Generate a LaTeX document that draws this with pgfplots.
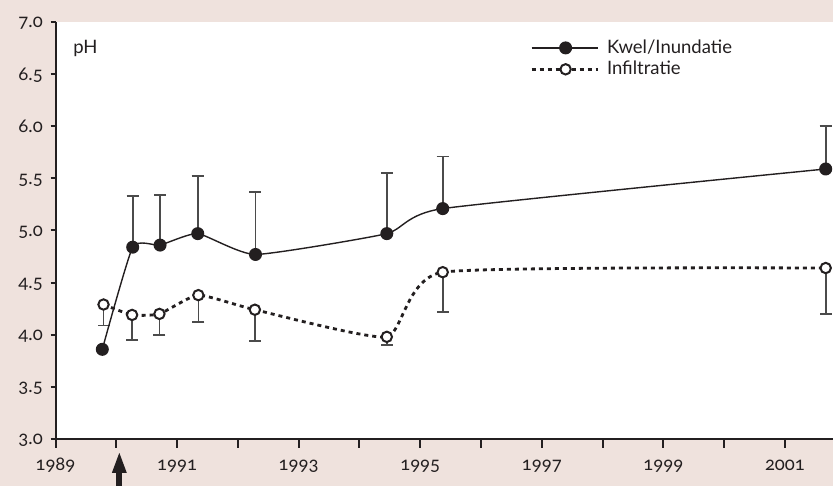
\documentclass[border=0pt]{standalone}
\usepackage{pgfplots}
\pgfplotsset{compat=1.18}
\usepackage{pgfplotstable}
\usepackage{fontspec}
\setmainfont{Lato}
\newfontfamily\osf{Lato}[RawFeature=+onum]
\usetikzlibrary{arrows.meta}
\definecolor{bgbeige}{RGB}{239,226,221}
\definecolor{axcol}{RGB}{35,31,32}
\definecolor{errcol}{RGB}{75,75,75}
\pgfplotstableread{
x y
1989.77 3.86
1990.27 4.84
1990.72 4.86
1991.34 4.97
1992.29 4.77
1994.45 4.97
1995.37 5.21
2001.67 5.59
}\kwel
\pgfplotstableread{
x y e
1990.27 4.84 0.49
1990.72 4.86 0.48
1991.34 4.97 0.55
1992.29 4.77 0.60
1994.45 4.97 0.58
1995.37 5.21 0.50
2001.67 5.59 0.41
}\kwelerr
\pgfplotstableread{
x y e
1989.79 4.29 0.20
1990.26 4.19 0.24
1990.71 4.20 0.20
1991.35 4.38 0.26
1992.28 4.24 0.30
1994.45 3.98 0.08
1995.37 4.60 0.38
2001.67 4.64 0.44
}\infil
\begin{document}
\fontsize{18.5}{22}\selectfont
\begin{tikzpicture}[
  xl/.style={anchor=base, inner sep=0pt, text=axcol, font=\osf, yshift=-32pt},
  yl/.style={anchor=base east, inner sep=0pt, text=axcol, font=\osf, xshift=-12.5pt, yshift=-6pt}]
\fill[bgbeige] (0,0) rectangle (833pt,486pt);
\useasboundingbox (0,0) rectangle (833pt,486pt);
\begin{axis}[
  at={(55.5pt,47pt)}, anchor=south west,
  scale only axis, width=777.5pt, height=417pt,
  xmin=1989, xmax=2001.79, ymin=3, ymax=7,
  clip=false,
  axis x line*=bottom, axis y line*=left,
  axis background/.style={fill=white},
  axis line style={line width=2pt, axcol},
  tick align=outside,
  major tick length=9pt,
  major tick style={line width=2pt, axcol},
  y tick style={/pgfplots/major tick length=5pt},
  xtick={1989,...,2001},
  xticklabels={},
  ytick={3,3.5,...,7},
  yticklabels={},
  legend style={at={(0.6103,0.958)}, anchor=north west, draw=none, fill=none,
    inner sep=0pt, row sep=5pt,
    nodes={inner sep=0pt, text=axcol},
    /tikz/every odd column/.append style={column sep=8pt}},
  legend cell align=left,
  legend image code/.code={
    \draw[#1, mark=none] (0pt,0pt) -- (66pt,0pt);
    \draw[#1] plot coordinates {(34pt,0pt)};
  },
]
% error bars
\addplot[forget plot, only marks, mark=none, errcol,
  error bars/.cd, y dir=plus, y explicit,
  error bar style={line width=1.6pt, errcol},
  error mark options={rotate=90, mark size=6pt, line width=1.6pt, errcol}]
  table[x=x, y=y, y error=e] {\kwelerr};
\addplot[forget plot, only marks, mark=none, errcol,
  error bars/.cd, y dir=minus, y explicit,
  error bar style={line width=1.6pt, errcol},
  error mark options={rotate=90, mark size=6pt, line width=1.6pt, errcol}]
  table[x=x, y=y, y error=e] {\infil};
% lines
\addplot[axcol, line width=1.4pt, smooth, tension=0.3,
  mark=*, mark size=5.8pt, mark options={solid, fill=axcol}]
  table[x=x, y=y] {\kwel};
\addlegendentry{Kwel/Inundatie}
\addplot[axcol, line width=2.8pt, dash pattern=on 4pt off 4pt, smooth, tension=0.3,
  mark=*, mark size=5.2pt, mark options={solid, fill=white, draw=axcol, line width=2pt}]
  table[x=x, y=y] {\infil};
\addlegendentry{Infiltratie}
\node[anchor=base west, inner sep=0pt, text=axcol] at (axis cs:1989.29,6.70) {pH};
% tick labels
\node[xl] at (axis cs:1989,3) {1989};
\node[xl] at (axis cs:1991,3) {1991};
\node[xl] at (axis cs:1993,3) {1993};
\node[xl] at (axis cs:1995,3) {1995};
\node[xl] at (axis cs:1997,3) {1997};
\node[xl] at (axis cs:1999,3) {1999};
\node[xl] at (axis cs:2001,3) {2001};
\node[yl] at (axis cs:1989,3.0) {3.0};
\node[yl] at (axis cs:1989,3.5) {3.5};
\node[yl] at (axis cs:1989,4.0) {4.0};
\node[yl] at (axis cs:1989,4.5) {4.5};
\node[yl] at (axis cs:1989,5.0) {5.0};
\node[yl] at (axis cs:1989,5.5) {5.5};
\node[yl] at (axis cs:1989,6.0) {6.0};
\node[yl] at (axis cs:1989,6.5) {6.5};
\node[yl] at (axis cs:1989,7.0) {7.0};
\draw[axcol, line width=6pt, -{Triangle[length=22pt,width=13pt]}]
  ([yshift=-50pt]axis cs:1990.05,3) -- ([yshift=-12pt]axis cs:1990.05,3);
\end{axis}
\end{tikzpicture}
\end{document}
